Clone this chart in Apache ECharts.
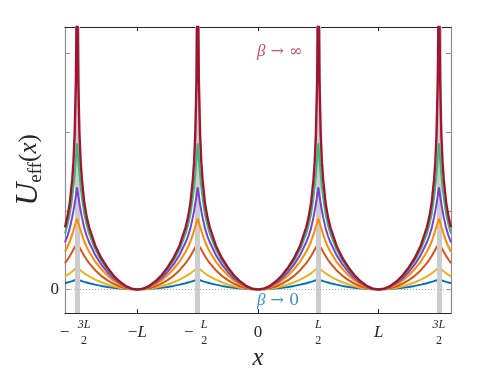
<!DOCTYPE html>
<html>
<head>
<meta charset="utf-8">
<script src="https://cdn.jsdelivr.net/npm/echarts@6/dist/echarts.min.js"></script>
<style>
html, body { margin: 0; padding: 0; background: #fff; }
#main { width: 498px; height: 374px; }
</style>
</head>
<body>
<div id="main"></div>
<script>
// distance from the nearest well (in units of L), read over one half period
const halfPeriod = [0, 0.05, 0.1, 0.15, 0.2, 0.25, 0.3, 0.35, 0.4, 0.42, 0.44, 0.46, 0.47, 0.48, 0.49, 0.495, 0.5];

// U_eff for each beta, same points as halfPeriod
const uBeta0  = [0, 0.001, 0.005, 0.011, 0.020, 0.031, 0.045, 0.061, 0.079, 0.088, 0.096, 0.106, 0.111, 0.116, 0.120, 0.122, 0.124];
const uBeta1  = [0, 0.003, 0.010, 0.022, 0.040, 0.063, 0.091, 0.125, 0.166, 0.185, 0.205, 0.228, 0.241, 0.254, 0.268, 0.276, 0.284];
const uBeta2  = [0, 0.005, 0.018, 0.040, 0.073, 0.118, 0.173, 0.245, 0.335, 0.378, 0.425, 0.480, 0.508, 0.535, 0.558, 0.570, 0.580];
const uBeta3  = [0, 0.008, 0.030, 0.065, 0.115, 0.180, 0.260, 0.355, 0.480, 0.540, 0.610, 0.700, 0.750, 0.800, 0.850, 0.875, 0.900];
const uBeta4  = [0, 0.010, 0.038, 0.082, 0.143, 0.222, 0.318, 0.440, 0.600, 0.680, 0.780, 0.920, 1.000, 1.090, 1.190, 1.245, 1.300];
const uBeta5  = [0, 0.011, 0.043, 0.095, 0.165, 0.257, 0.368, 0.510, 0.710, 0.820, 0.960, 1.170, 1.300, 1.460, 1.650, 1.760, 1.860];
const uBetaInf = [0, 0.011, 0.046, 0.103, 0.180, 0.280, 0.400, 0.560, 0.790, 0.920, 1.100, 1.400, 1.620, 1.970, 2.650, 3.350, 6.000];

const curves = [uBeta0, uBeta1, uBeta2, uBeta3, uBeta4, uBeta5, uBetaInf];
const curveColors = ['#0072bd', '#edb120', '#d95319', '#ff8c00', '#7b3fd6', '#3cb878', '#a2142f'];

const xTicks = [-1.5, -1, -0.5, 0, 0.5, 1, 1.5];
const yTicks = [0, 1, 2, 3];
const barriers = [-1.5, -0.5, 0.5, 1.5];

const xMin = -1.6, xMax = 1.6;

// the curve is periodic and even: lay the half period read above over the whole range
function fullCurve(vals) {
    const pts = [];
    for (let k = -2; k <= 2; k++) {
        halfPeriod.forEach(function (d, i) {
            [-1, 1].forEach(function (s) {
                const x = +(k + s * d).toFixed(4);
                if (x >= xMin - 1e-9 && x <= xMax + 1e-9) pts.push([x, vals[i]]);
            });
        });
    }
    pts.sort(function (a, b) { return a[0] - b[0]; });
    return pts.filter(function (p, i) { return i === 0 || p[0] !== pts[i - 1][0]; });
}

const serif = 'Liberation Serif';
const txt = '#262626';

const xLabelText = {
    '-1.5': '{sp3|}{n3|3L}\n{sp3|}{d3|2}',
    '-1': '{big|−}{it|L}',
    '-0.5': '{sp1|}{n1|L}\n{sp1|}{d1|2}',
    '0': '{big|0}',
    '0.5': '{n1|L}\n{d1|2}',
    '1': '{it|L}',
    '1.5': '{n3|3L}\n{d3|2}'
};

const fracRich = {
    big: { fontFamily: serif, fontSize: 17, lineHeight: 32, color: txt },
    it: { fontFamily: serif, fontStyle: 'italic', fontSize: 17, lineHeight: 32, color: txt },
    n3: { fontFamily: serif, fontStyle: 'italic', fontSize: 12, lineHeight: 16, width: 25, align: 'center', color: txt },
    d3: { fontFamily: serif, fontSize: 12, lineHeight: 16, width: 25, align: 'center', color: txt },
    sp3: { width: 14, lineHeight: 16 },
    n1: { fontFamily: serif, fontStyle: 'italic', fontSize: 12, lineHeight: 16, width: 18, align: 'center', color: txt },
    d1: { fontFamily: serif, fontSize: 12, lineHeight: 16, width: 18, align: 'center', color: txt },
    sp1: { width: 13, lineHeight: 16 }
};

const minusRich = {
    m3: { fontFamily: serif, fontSize: 17, lineHeight: 32, width: 14, align: 'center', color: txt },
    f3: { width: 25, lineHeight: 32 },
    m1: { fontFamily: serif, fontSize: 17, lineHeight: 32, width: 13, align: 'center', color: txt },
    f1: { width: 18, lineHeight: 32 }
};

const series = [{
    type: 'line',
    data: [],
    silent: true,
    z: 1,
    markLine: {
        silent: true,
        symbol: ['none', 'none'],
        label: { show: false },
        animation: false,
        data: barriers.map(function (b) {
            return { xAxis: b, lineStyle: { color: '#cccccc', width: 5, type: 'solid' } };
        }).concat([{ yAxis: 0, lineStyle: { color: '#a8a8a8', width: 1, type: [1, 2] } }])
    }
}];

curves.forEach(function (vals, i) {
    series.push({
        type: 'line',
        data: fullCurve(vals),
        showSymbol: false,
        symbol: 'none',
        z: 2 + i,
        lineStyle: { color: curveColors[i], width: i === 6 ? 2.4 : 2 },
        itemStyle: { color: curveColors[i] }
    });
});

const arrowFont = 'DejaVu Serif';

const chart = echarts.init(document.getElementById('main'));
chart.setOption({
    animation: false,
    backgroundColor: '#fff',
    grid: { left: 65, right: 47, top: 27, bottom: 61, outerBoundsMode: 'none', containLabel: false },
    xAxis: [{
        type: 'value', min: xMin, max: xMax, position: 'bottom',
        axisLine: { onZero: false, lineStyle: { color: '#262626', width: 1.2 } },
        axisTick: { inside: true, length: 4, customValues: xTicks, lineStyle: { color: '#262626' } },
        splitLine: { show: false },
        axisLabel: {
            customValues: xTicks, margin: 4,
            formatter: function (v) { return xLabelText[String(v)] || ''; },
            rich: fracRich
        },
        name: 'x', nameLocation: 'middle', nameGap: 33, nameMoveOverlap: false,
        nameTextStyle: { fontFamily: serif, fontStyle: 'italic', fontSize: 25, color: txt }
    }, {
        type: 'value', min: xMin, max: xMax, position: 'bottom',
        axisLine: { show: false, onZero: false },
        axisTick: { show: false },
        splitLine: { show: false },
        axisLabel: {
            customValues: [-1.5, -0.5], margin: 4,
            formatter: function (v) { return v === -1.5 ? '{m3|−}{f3|}' : '{m1|−}{f1|}'; },
            rich: minusRich
        }
    }, {
        type: 'value', min: xMin, max: xMax, position: 'top',
        axisLine: { onZero: false, lineStyle: { color: '#262626', width: 1.2 } },
        axisTick: { inside: true, length: 4, customValues: xTicks, lineStyle: { color: '#262626' } },
        axisLabel: { show: false },
        splitLine: { show: false }
    }],
    yAxis: [{
        type: 'value', min: -0.3, max: 3.34, position: 'left',
        axisLine: { onZero: false, lineStyle: { color: '#8c8c8c', width: 1.2 } },
        axisTick: { inside: true, length: 5, customValues: yTicks, lineStyle: { color: '#8c8c8c' } },
        splitLine: { show: false },
        axisLabel: {
            customValues: [0], margin: 6,
            formatter: function () { return '0'; },
            fontFamily: serif, fontSize: 17, color: txt
        },
        name: '{u|U}{s|eff}{p|(}{v|x}{p|)}',
        nameLocation: 'middle', nameGap: 19, nameRotate: 90, nameMoveOverlap: false,
        nameTextStyle: {
            rich: {
                u: { fontFamily: serif, fontStyle: 'italic', fontSize: 32, lineHeight: 34, color: txt },
                s: { fontFamily: serif, fontSize: 19, lineHeight: 34, verticalAlign: 'bottom', color: txt },
                p: { fontFamily: serif, fontSize: 25, lineHeight: 34, color: txt },
                v: { fontFamily: serif, fontStyle: 'italic', fontSize: 25, lineHeight: 34, color: txt }
            }
        }
    }, {
        type: 'value', min: -0.3, max: 3.34, position: 'right',
        axisLine: { onZero: false, lineStyle: { color: '#8c8c8c', width: 1.2 } },
        axisTick: { inside: true, length: 5, customValues: yTicks, lineStyle: { color: '#8c8c8c' } },
        axisLabel: { show: false },
        splitLine: { show: false }
    }],
    graphic: [{
        type: 'text', left: 257, top: 43, z: 20,
        style: {
            text: '{b|β}{r| → ∞}',
            rich: {
                b: { fontFamily: serif, fontStyle: 'italic', fontSize: 17, fill: '#c4526e' },
                r: { fontFamily: arrowFont, fontSize: 16, fill: '#c4526e' }
            }
        }
    }, {
        type: 'text', left: 257, top: 292, z: 20,
        style: {
            text: '{b|β}{r| → 0}',
            rich: {
                b: { fontFamily: serif, fontStyle: 'italic', fontSize: 17, fill: '#3a8fd2' },
                r: { fontFamily: arrowFont, fontSize: 16, fill: '#3a8fd2' }
            }
        }
    }],
    series: series
});
</script>
</body>
</html>
